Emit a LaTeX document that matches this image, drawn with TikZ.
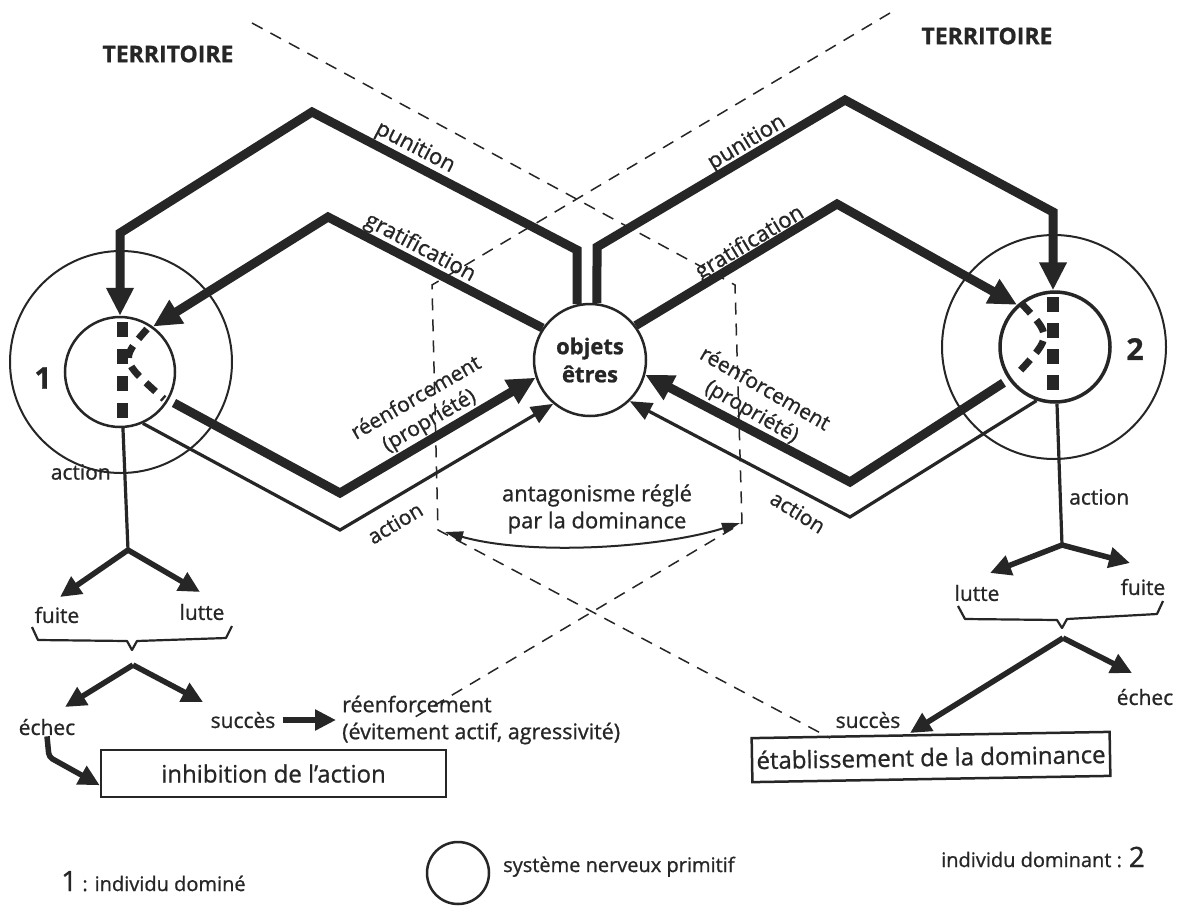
\documentclass[tikz,border=0pt]{standalone}
\usepackage{fontspec}
\setmainfont{Open Sans}[FakeBold=0.9]
\usetikzlibrary{arrows.meta}
\definecolor{ink}{HTML}{262626}
\begin{document}
\begin{tikzpicture}[x=1pt,y=-1pt,
  lbl/.style={font=\fontsize{21}{26}\selectfont, inner sep=1pt, text=ink},
  thk/.style={draw=ink, line width=9pt, line join=miter},
  thn/.style={draw=ink, line width=3.2pt, line join=miter},
  med/.style={draw=ink, line width=5.5pt, line join=miter},
  bigtip/.style={-{Triangle[length=28pt,width=26pt]}},
  thintip/.style={-{Triangle[length=22pt,width=18pt]}},
  medtip/.style={-{Triangle[length=21pt,width=20pt]}},
  dsh/.style={draw=ink, line width=1.5pt, dash pattern=on 12pt off 9pt},
  bracepath/.style={draw=ink, line width=2.2pt, line join=round},
  boxed/.style={draw=ink, line width=2.5pt, font=\fontsize{24}{28}\selectfont, text=ink},
  ring/.style={circle, draw=ink, inner sep=0pt},
  digit/.style={font=\fontsize{30}{30}\selectfont\bfseries, text=ink, inner sep=0pt}
]
\useasboundingbox (0,0) rectangle (1180,905);
\fill[white] (0,0) rectangle (1180,905);

% territory boundaries
\draw[dsh] (252,23) -- (735,285) -- (742,523) -- (410,720);
\draw[dsh] (890,13) -- (432,285) -- (438,530) -- (830,738);

% circles
\node[ring, line width=2pt, minimum size=222pt] (Lout) at (121,362) {};
\node[ring, line width=2.5pt, minimum size=110pt] (Li) at (120,372) {};
\node[ring, line width=2pt, minimum size=224pt] (Rout) at (1054,347) {};
\node[ring, line width=3.5pt, minimum size=110pt] (Ri) at (1055,347) {};
\node[ring, line width=2.5pt, minimum size=112pt, align=center,
      font=\fontsize{22}{28}\selectfont\bfseries, text=ink] (C) at (590,360) {objets\\êtres};

\node[digit] (n1) at (43,378) {1};
\node[digit] (n2) at (1135,349) {2};

% primitive nervous system dashes
\draw[ink, line width=11pt, dash pattern=on 15pt off 12pt] (122,322) -- (122,418);
\draw[ink, line width=7pt, dash pattern=on 13pt off 9pt] (147,329) .. controls (120,360) .. (164,399);
\draw[ink, line width=12pt, dash pattern=on 15pt off 11pt] (1053,297) -- (1053,392);
\draw[ink, line width=7pt, dash pattern=on 14pt off 9pt] (1021,303) .. controls (1052,336) .. (1019,372);

% main loops
\draw[thk, bigtip] (C.103) -- (577,250) -- (312,112) -- (120,233) -- (Li.90);
\draw[thk, bigtip] (C.146) -- (328,217) -- (Li.54);
\draw[thk, bigtip] (C.83) -- (597,247) -- (845,100) -- (1053,212) -- (Ri.92);
\draw[thk, bigtip] (C.37) -- (837,204) -- (Ri.132);
\draw[thk, bigtip, shorten <=6pt] (Li.-30) -- (340,493) -- (C.198);
\draw[thn, thintip] (Li.-66) -- (340,530) -- (C.230);
\draw[thk, bigtip, shorten <=6pt] (Ri.215) -- (850,482) -- (C.-15);
\draw[thn, thintip] (Ri.251) -- (850,517) -- (C.-46);

% loop labels
\node[lbl, font=\fontsize{23}{28}\selectfont\bfseries] (terL) at (168,54) {TERRITOIRE};
\node[lbl, font=\fontsize{23}{28}\selectfont\bfseries] (terR) at (987,36) {TERRITOIRE};
\node[lbl, font=\fontsize{22}{26}\selectfont, rotate=-27.5] (punL) at (415,148) {punition};
\node[lbl, font=\fontsize{22}{26}\selectfont, rotate=31] (punR) at (747,143) {punition};
\node[lbl, font=\fontsize{22}{26}\selectfont, rotate=-28] (graL) at (420,248) {gratification};
\node[lbl, font=\fontsize{22}{26}\selectfont, rotate=31] (graR) at (750,243) {gratification};
\node[lbl, rotate=30, align=center] (reL) at (423,410) {réenforcement\\(propriété)};
\node[lbl, rotate=-30, align=center] (reR) at (758,401) {réenforcement\\(propriété)};
\node[lbl, rotate=31] (acL) at (395,523) {action};
\node[lbl, rotate=-32] (acR) at (798,512) {action};
\node[lbl, align=center, font=\fontsize{22}{27}\selectfont] (ant) at (597,509) {antagonisme réglé\\par la dominance};
\coordinate (antL) at (445,532);
\coordinate (antR) at (740,523);
\draw[ink, line width=2pt, {Triangle[length=18pt,width=11pt]}-{Triangle[length=18pt,width=11pt]}]
  (antL) .. controls (530,556) and (660,548) .. (antR);

% left individual outcomes
\node[lbl, anchor=east] (actL) at (112,472) {action};
\node[lbl] (fuiteL) at (57,615) {fuite};
\node[lbl] (lutteL) at (202,612) {lutte};
\node[lbl] (echecL) at (47,727) {échec};
\node[lbl] (succesL) at (243,720) {succès};
\node[lbl, anchor=west, align=left, inner sep=6pt, font=\fontsize{21.5}{27}\selectfont] (reenfB) at (336,720) {réenforcement\\(évitement actif, agressivité)};
\node[boxed, minimum width=345pt, minimum height=47pt] (inhib) at (273.5,773.5) {inhibition de l'action};

\coordinate (Lsplit) at (128,550);
\coordinate (tFuiteL) at (60,597);
\coordinate (tLutteL) at (200,592);
\draw[thn] (Li.-87) -- (Lsplit);
\draw[med, medtip] (Lsplit) -- (tFuiteL);
\draw[med, medtip] (Lsplit) -- (tLutteL);
\draw[bracepath] (32,627) -- (38,640) -- (127,641) -- (132,650) -- (137,641) -- (226,638) -- (232,626);
\coordinate (Lsplit2) at (133,665);
\coordinate (tEchecL) at (65,707);
\coordinate (tSuccesL) at (203,702);
\draw[med, medtip] (Lsplit2) -- (tEchecL);
\draw[med, medtip] (Lsplit2) -- (tSuccesL);
\draw[med, medtip, shorten <=6pt] (succesL.east) -- (reenfB.west);
\draw[med, medtip, rounded corners=4pt] (echecL.south) -- (49,757) -- ([yshift=13pt]inhib.south west);

% right individual outcomes
\node[lbl, anchor=west] (actR) at (1068,497) {action};
\node[lbl] (lutteR) at (977,593) {lutte};
\node[lbl] (fuiteR) at (1143,587) {fuite};
\node[lbl] (echecR) at (1145,697) {échec};
\node[lbl] (succesR) at (868,720) {succès};
\node[boxed, minimum width=358pt, minimum height=44pt, inner sep=3pt, rotate=1] (etab) at (931,757) {établissement de la dominance};

\coordinate (Rsplit) at (1062,545);
\coordinate (tLutteR) at (990,573);
\coordinate (tFuiteR) at (1130,563);
\draw[thn] (Ri.-88) -- (Rsplit);
\draw[med, medtip] (Rsplit) -- (tLutteR);
\draw[med, medtip] (Rsplit) -- (tFuiteR);
\draw[bracepath] (958,606) -- (965,619) -- (1057,620) -- (1062,628) -- (1067,619) -- (1157,614) -- (1163,601);
\coordinate (Rsplit2) at (1063,638);
\coordinate (tEchecR) at (1132,673);
\coordinate (tSuccesR) at (910,733);
\draw[med, medtip] (Rsplit2) -- (tEchecR);
\draw[med, medtip] (Rsplit2) -- (tSuccesR);

% legend
\node[lbl, anchor=base west, font=\fontsize{20}{24}\selectfont] (leg1) at (60,891) {{\fontsize{28}{28}\selectfont 1} : individu dominé};
\node[ring, line width=2.5pt, minimum size=62pt] (legC) at (458,873) {};
\node[lbl, anchor=base west, font=\fontsize{20}{24}\selectfont] (leg2) at (502,872) {système nerveux primitif};
\node[lbl, anchor=base west, font=\fontsize{20}{24}\selectfont] (leg3) at (940,867) {individu dominant : {\fontsize{28}{28}\selectfont 2}};
\end{tikzpicture}
\end{document}
